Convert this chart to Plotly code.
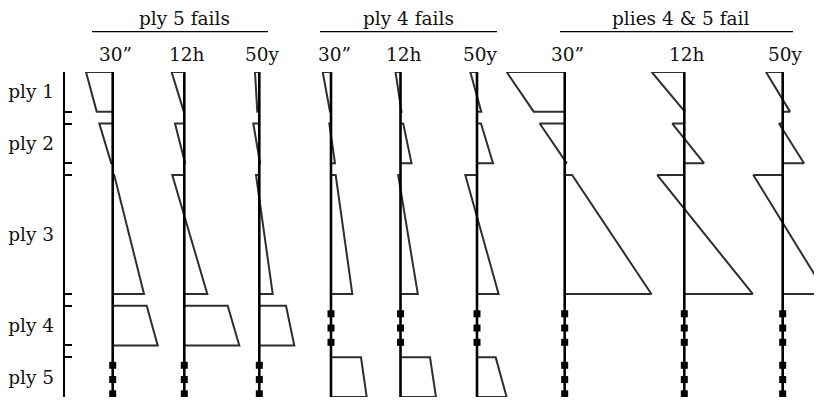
import plotly.graph_objects as go

# ---------------- data ----------------
plies = ["ply 1", "ply 2", "ply 3", "ply 4", "ply 5"]
ply_top = [0.0, 1.3, 2.6, 5.9, 7.2]          # through-thickness position of ply tops
ply_thick = [1.0, 1.0, 3.0, 1.0, 1.0]        # ply thicknesses
times = ["30”", "12h", "50y"]
scenarios = ["ply 5 fails", "ply 4 fails", "plies 4 & 5 fail"]
fail_marks = [0.2, 0.56, 0.92]               # marker positions (fraction of ply) for failed plies

# stress at top / bottom of each ply (None = failed ply)
p5_30s_top = [-26.7, -13.4, 1.5, 34.0, None]
p5_30s_bot = [-16.0, -1.5, 31.3, 45.0, None]
p5_12h_top = [-12.7, -9.3, -12.0, 43.4, None]
p5_12h_bot = [-0.5, 0.8, 23.0, 55.0, None]
p5_50y_top = [-4.3, -6.0, -3.3, 26.7, None]
p5_50y_bot = [-2.0, 0.7, 13.4, 35.0, None]

p4_30s_top = [-8.3, -1.7, 4.7, None, 30.0]
p4_30s_bot = [-1.0, 4.0, 21.3, None, 35.7]
p4_12h_top = [-5.0, 2.7, -2.3, None, 29.5]
p4_12h_bot = [1.0, 11.0, 17.3, None, 35.5]
p4_50y_top = [-6.7, 4.0, -11.7, None, 18.7]
p4_50y_bot = [4.3, 16.0, 21.6, None, 29.6]

p45_30s_top = [-58.0, -25.0, 7.4, None, None]
p45_30s_bot = [-31.0, 2.0, 86.7, None, None]
p45_12h_top = [-32.6, -12.0, -27.0, None, None]
p45_12h_bot = [0.5, 19.7, 68.4, None, None]
p45_50y_top = [-16.7, -3.7, -29.4, None, None]
p45_50y_bot = [7.3, 21.3, 43.8, None, None]

profiles = [
    [(p5_30s_top, p5_30s_bot), (p5_12h_top, p5_12h_bot), (p5_50y_top, p5_50y_bot)],
    [(p4_30s_top, p4_30s_bot), (p4_12h_top, p4_12h_bot), (p4_50y_top, p4_50y_bot)],
    [(p45_30s_top, p45_30s_bot), (p45_12h_top, p45_12h_bot), (p45_50y_top, p45_50y_bot)],
]

# ---------------- layout constants (page pixels) ----------------
PAGE_OFF = 8                      # default body margin of the HTML page
W, H = 822 - PAGE_OFF, 402 - PAGE_OFF
PLOT_L, PLOT_R, PLOT_T, PLOT_B = 65, 822, 72, 397   # plot area in page pixels
COL_X = [[112.7, 184.3, 259.3], [331.0, 400.5, 477.0], [564.7, 684.3, 782.7]]
TITLE_X = [184.2, 408.3, 680.8]
RULE_X = [(92, 268), (320, 497), (560, 793)]
FONT = "DejaVu Serif"
FS = 18.5
LINE_C = "#2e2e2e"


def py(p):  # page pixel row -> paper y
    return (PLOT_B - p) / (PLOT_B - PLOT_T)


total = ply_top[-1] + ply_thick[-1]
bounds = []
for t, th in zip(ply_top, ply_thick):
    bounds += [t, t + th]
centers = [t + th / 2 for t, th in zip(ply_top, ply_thick)]

fig = go.Figure()
for g in range(len(scenarios)):
    for k in range(len(times)):
        base = COL_X[g][k]
        tops, bots = profiles[g][k]
        xs, ys, fx, fy = [], [], [], []
        for i in range(len(plies)):
            z0 = ply_top[i]
            z1 = z0 + ply_thick[i]
            if tops[i] is None:
                for f in fail_marks:
                    fx.append(base)
                    fy.append(z0 + f * ply_thick[i])
            else:
                xs += [base, base + tops[i], base + bots[i], base, None]
                ys += [z0, z0, z1, z1, None]
        fig.add_trace(go.Scatter(x=xs, y=ys, mode="lines", yaxis="y",
                                 line=dict(color=LINE_C, width=2), hoverinfo="skip",
                                 showlegend=False))
        fig.add_trace(go.Scatter(x=[base, base], y=[0, total], mode="lines", yaxis="y2",
                                 line=dict(color="black", width=2.6), hoverinfo="skip",
                                 showlegend=False))
        if fx:
            fig.add_trace(go.Scatter(x=fx, y=fy, mode="markers", yaxis="y3",
                                     marker=dict(symbol="square", size=7, color="black"),
                                     hoverinfo="skip", showlegend=False))

annotations = []
shapes = []
for g, name in enumerate(scenarios):
    annotations.append(dict(text=name, x=TITLE_X[g], xref="x", y=py(18.5), yref="paper",
                            xanchor="center", yanchor="middle", showarrow=False,
                            font=dict(family=FONT, size=FS, color="#111")))
    shapes.append(dict(type="line", xref="x", yref="paper",
                       x0=RULE_X[g][0], x1=RULE_X[g][1], y0=py(31.7), y1=py(31.7),
                       line=dict(color="black", width=1.3)))
    for k, tl in enumerate(times):
        annotations.append(dict(text=tl, x=COL_X[g][k] + 3, xref="x", y=py(54.5), yref="paper",
                                xanchor="center", yanchor="middle", showarrow=False,
                                font=dict(family=FONT, size=FS, color="#111")))

common_y = dict(range=[total, 0], showgrid=False, zeroline=False, fixedrange=True,
                automargin=False)

fig.update_layout(
    width=W, height=H,
    margin=dict(l=PLOT_L - PAGE_OFF, r=0, t=PLOT_T - PAGE_OFF, b=402 - PLOT_B, pad=0),
    plot_bgcolor="white", paper_bgcolor="white",
    xaxis=dict(range=[PLOT_L, PLOT_R], visible=False, fixedrange=True),
    yaxis=dict(**common_y, showline=True, linecolor="black", linewidth=2,
               tickmode="array", tickvals=bounds, ticks="inside", ticklen=7, tickwidth=2,
               tickcolor="black", showticklabels=False),
    yaxis2=dict(**common_y, overlaying="y", anchor="x", side="left", showline=False,
                tickmode="array", tickvals=centers, ticktext=plies, ticks="",
                ticklabelstandoff=10,
                tickfont=dict(family=FONT, size=FS, color="#111")),
    yaxis3=dict(**common_y, overlaying="y", anchor="x", side="right", showline=False,
                tickmode="array", tickvals=bounds, ticks="inside", ticklen=5, tickwidth=2,
                tickcolor="black", showticklabels=False),
    annotations=annotations,
    shapes=shapes,
)

fig.write_html("out.html")
